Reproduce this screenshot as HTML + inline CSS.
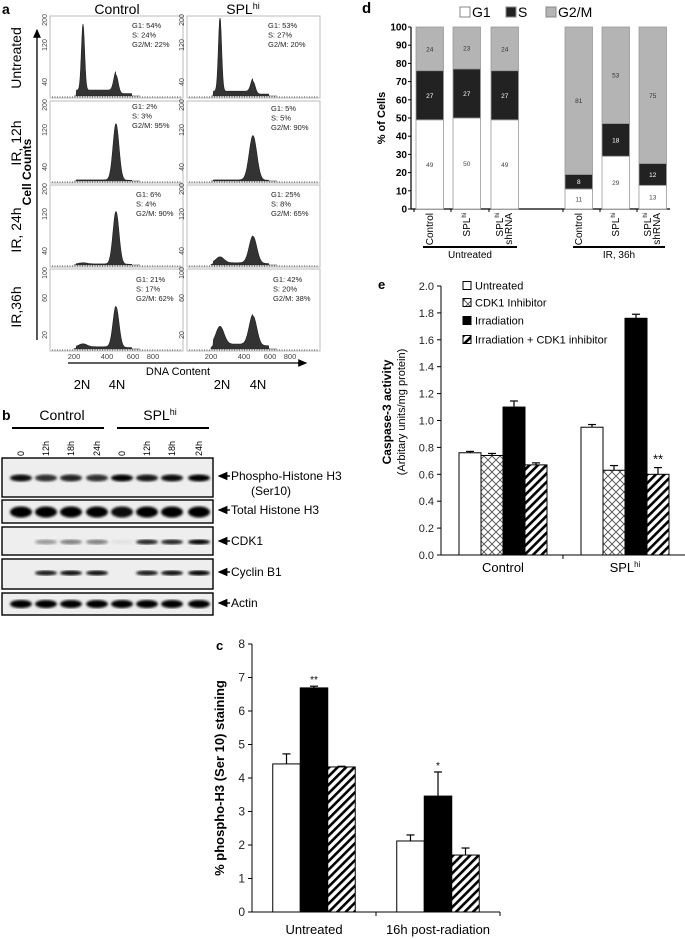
<!DOCTYPE html>
<html><head><meta charset="utf-8"><style>
html,body{margin:0;padding:0;background:#fff}
svg{display:block;font-family:"Liberation Sans",Arial,sans-serif}
</style></head><body>
<svg id="fig" width="685" height="939" viewBox="0 0 685 939" xmlns="http://www.w3.org/2000/svg">
<defs>
<pattern id="diag" patternUnits="userSpaceOnUse" width="6" height="6" patternTransform="rotate(45)"><rect width="6" height="6" fill="#fff"/><rect width="2.6" height="6" fill="#000"/></pattern>
<pattern id="brick" patternUnits="userSpaceOnUse" width="8" height="8"><rect width="8" height="8" fill="#fff"/><path d="M0 4 L4 0 L8 4 L4 8 Z" fill="none" stroke="#555" stroke-width="0.9"/></pattern>
<filter id="blur"><feGaussianBlur stdDeviation="1.2"/></filter>
<marker id="arr" markerWidth="8" markerHeight="8" refX="6" refY="4" orient="auto"><path d="M0 1 L7 4 L0 7 Z" fill="#000"/></marker>
</defs>
<g id="pa"></g>
<g id="pb"></g>
<g id="pc"></g>
<g id="pd"></g>
<g id="pe"></g>
</svg>
<script>
// ---------- Panel a data ----------
const aRowLabels = ['Untreated','IR, 12h','IR, 24h','IR,36h'];
const aColLabels = ['Control','SPL'];
const aG1Counts = [[178,200],[0,0],[3,16],[4,24]];
const aSCounts = [[16,13],[5,5],[5,10],[5,11]];
const aG2Counts = [[50,34],[152,120],[142,73],[55,40]];
const aYMax = [210,210,210,105];
const aYTicks = [['200','120','40'],['200','120','40'],['200','120','40'],['100','60','20']];
const aPercents = [
 [['G1: 54%','S: 24%','G2/M: 22%'],['G1: 53%','S: 27%','G2/M: 20%']],
 [['G1: 2%','S: 3%','G2/M: 95%'],['G1: 5%','S: 5%','G2/M: 90%']],
 [['G1: 6%','S: 4%','G2/M: 90%'],['G1: 25%','S: 8%','G2/M: 65%']],
 [['G1: 21%','S: 17%','G2/M: 62%'],['G1: 42%','S: 20%','G2/M: 38%']]];
const aXTicks = ['200','400','600','800'];

// ---------- Panel c data ----------
const cGroups = ['Untreated','16h post-radiation'];
const cWhite = [4.42,2.12];
const cWhiteErr = [0.3,0.18];
const cBlack = [6.69,3.46];
const cBlackErr = [0.05,0.72];
const cHatch = [4.33,1.70];
const cHatchErr = [0.02,0.21];
const cSig = ['**','*'];
const cTicks = [0,1,2,3,4,5,6,7,8];

// ---------- Panel d data ----------
const dBars = ['Control','SPL','SPL shRNA','Control','SPL','SPL shRNA'];
const dG1 = [49,50,49,11,29,13];
const dS = [27,27,27,8,18,12];
const dG2M = [24,23,24,81,53,75];
const dTicks = [0,10,20,30,40,50,60,70,80,90,100];

// ---------- Panel e data ----------
const eGroups = ['Control','SPL'];
const eUntreated = [0.76,0.95];
const eUntreatedErr = [0.01,0.02];
const eCdk1 = [0.74,0.63];
const eCdk1Err = [0.015,0.035];
const eIrr = [1.10,1.76];
const eIrrErr = [0.045,0.03];
const eIrrCdk1 = [0.67,0.60];
const eIrrCdk1Err = [0.015,0.05];
const eTicks = ['0.0','0.2','0.4','0.6','0.8','1.0','1.2','1.4','1.6','1.8','2.0'];

const NS='http://www.w3.org/2000/svg';
function mk(parent,tag,attrs,text){const e=document.createElementNS(NS,tag);for(const k in attrs)e.setAttribute(k,attrs[k]);if(text!==undefined)e.textContent=text;parent.appendChild(e);return e;}

// ================= Panel a =================
(function(){
 const g=document.getElementById('pa');
 let t=mk(g,'text',{x:2,y:14,'font-size':14,'font-weight':'bold'},'a');
 
 
 t=mk(g,'text',{x:117,y:14,'font-size':14,'text-anchor':'middle'},'Control');
 
 
 t=mk(g,'text',{x:243,y:14,'font-size':14,'text-anchor':'middle'});
 t.innerHTML='SPL<tspan font-size="9" dy="-5">hi</tspan>';
 
 
 const boxX=[50,187], boxY=[16,101,185,269], bw=133, bh=82;
 const ln=mk(g,'line',{x1:37,y1:340,x2:37,y2:30,stroke:'#000','stroke-width':1.3,'marker-end':'url(#arr)'});
 
 
 t=mk(g,'text',{x:0,y:0,'font-size':12,'font-weight':'bold','text-anchor':'middle',transform:'translate(31,172) rotate(-90)'},'Cell Counts');
 
 
 const rowCy=[58,143,230,307];
 for(let r=0;r<4;r++){
  t=mk(g,'text',{x:0,y:0,'font-size':14,'text-anchor':'middle',transform:`translate(21,${rowCy[r]}) rotate(-90)`},aRowLabels[r]);
  
  
  for(let c=0;c<2;c++){
   const x0=boxX[c], y0=boxY[r];
   const box=mk(g,'rect',{x:x0,y:y0,width:bw,height:bh,fill:'#fff',stroke:'#bbb','stroke-width':1});
   
   
   const base=y0+bh-2, sc=(bh-4)/aYMax[r];
   const g1x=33,g2x=66;
   let pts=[];
   const start=24, end=90;
   const g2s=(r===0?2.2:(c===1?3.8:3));
   for(let xx=start;xx<=end;xx+=0.5){
    let h=aG1Counts[r][c]*Math.exp(-Math.pow((xx-g1x)/1.6,2)/2);
    if(r>0&&aG1Counts[r][c]>0) h=aG1Counts[r][c]*Math.exp(-Math.pow((xx-g1x)/4,2)/2);
    h+=aG2Counts[r][c]*Math.exp(-Math.pow((xx-g2x)/g2s,2)/2);
    if(xx>26&&xx<g2x) h+=aSCounts[r][c]*(r===0?1:0.6);
    if(xx>=g2x&&xx<82) h+=aSCounts[r][c]*0.4;
    pts.push([x0+xx,base-Math.min(h*sc,bh-4)]);
   }
   let d=`M${x0+start} ${base} `+pts.map(p=>`L${p[0].toFixed(1)} ${p[1].toFixed(1)}`).join(' ')+` L${x0+end} ${base} Z`;
   const hp=mk(g,'path',{d:d,fill:'#333',stroke:'#222','stroke-width':0.6});
   
   
   mk(g,'line',{x1:x0+2,y1:base+1,x2:x0+bw-2,y2:base+1,stroke:'#555','stroke-width':1,'stroke-dasharray':'1 1.5'});
   const ty=[4,29,66];
   for(let k=0;k<3;k++){
    const yt=mk(g,'text',{x:0,y:0,'font-size':7,fill:'#444','text-anchor':'middle',transform:`translate(${x0-3},${y0+ty[k]}) rotate(-90)`},aYTicks[r][k]);
    
    
   }
   const px=[[132,268],[132,271],[136,271],[136,273]][r][c];
   const py=[[28,28],[109,111],[197,197],[282,282]][r][c];
   for(let k=0;k<3;k++){
    const pt=mk(g,'text',{x:px,y:py+k*9.5,'font-size':7.5,fill:'#222'},aPercents[r][c][k]);
    
    
   }
  }
 }
 const xt=[74,107,133,153];
 for(let c=0;c<2;c++)for(let k=0;k<4;k++){
  const tt=mk(g,'text',{x:xt[k]+c*137,y:359,'font-size':7.5,fill:'#444','text-anchor':'middle'},aXTicks[k]);
  
  
 }
 const xa=mk(g,'line',{x1:68,y1:363,x2:306,y2:363,stroke:'#000','stroke-width':1.3,'marker-end':'url(#arr)'});
 
 
 t=mk(g,'text',{x:178,y:375,'font-size':11,'text-anchor':'middle'},'DNA Content');
 
 
 [[82,'2N'],[117,'4N'],[222,'2N'],[258,'4N']].forEach(a=>{
  const l=mk(g,'text',{x:a[0],y:389,'font-size':13,'text-anchor':'middle'},a[1]);
  
  
 });
})();

// ================= Panel b =================
(function(){
 const g=document.getElementById('pb');
 let t=mk(g,'text',{x:2,y:420,'font-size':14,'font-weight':'bold'},'b');
 
 
 t=mk(g,'text',{x:62,y:420,'font-size':14,'text-anchor':'middle'},'Control');
 
 
 t=mk(g,'text',{x:160,y:420,'font-size':14,'text-anchor':'middle'});
 t.innerHTML='SPL<tspan font-size="9" dy="-5">hi</tspan>';
 
 
 mk(g,'line',{x1:12,y1:428,x2:104,y2:428,stroke:'#000','stroke-width':2});
 mk(g,'line',{x1:117,y1:428,x2:209,y2:428,stroke:'#000','stroke-width':2});
 const lanes=[21,46,71,97,122,147,172,199];
 const lab=['0','12h','18h','24h','0','12h','18h','24h'];
 lanes.forEach((x,i)=>{
  const l=mk(g,'text',{x:0,y:0,'font-size':9,'text-anchor':'start',transform:`translate(${x+3},456) rotate(-90)`},lab[i]);
  
  
 });
 const rows=[
  {y:458,h:39,band:478,bh:7,int:[0.95,0.8,0.85,0.8,1,0.9,0.95,1],name:'Phospho-Histone H3',ly:480,sub:'(Ser10)'},
  {y:500,h:23,band:512,bh:11,int:[1,1,1,1,0.95,1,1,1],name:'Total Histone H3',ly:514},
  {y:527,h:28,band:542,bh:5,int:[0,0.35,0.45,0.45,0.05,0.85,0.85,1],name:'CDK1',ly:545},
  {y:559,h:30,band:573,bh:5,int:[0,0.9,0.95,0.95,0,0.9,0.95,1],name:'Cyclin B1',ly:576},
  {y:593,h:22,band:604,bh:8,int:[1,1,1,1,1,1,1,1],name:'Actin',ly:607}
 ];
 rows.forEach(r=>{
  const b=mk(g,'rect',{x:2,y:r.y,width:211,height:r.h,fill:'#eee',stroke:'#000','stroke-width':1.4});
  
  
  lanes.forEach((x,i)=>{
   if(r.int[i]<=0)return;
   const e=mk(g,'ellipse',{cx:x,cy:r.band,rx:11,ry:r.bh/2,fill:'#000','fill-opacity':r.int[i],filter:'url(#blur)'});
   
   
  });
  mk(g,'line',{x1:230,y1:r.ly-4,x2:219,y2:r.ly-4,stroke:'#000','stroke-width':1.4,'marker-end':'url(#arr)'});
  const l=mk(g,'text',{x:231,y:r.ly,'font-size':12},r.name);
  
  
  if(r.sub){const s=mk(g,'text',{x:271,y:r.ly+15,'font-size':12,'text-anchor':'middle'},r.sub);
   
   }
 });
})();

// ================= Panel c =================
(function(){
 const g=document.getElementById('pc');
 const ax0=252, ax1=500, y0=912, pu=33.5;
 const yS=v=>y0-v*pu;
 let t=mk(g,'text',{x:216,y:650,'font-size':13,'font-weight':'bold'},'c');
 
 
 mk(g,'line',{x1:ax0,y1:yS(8),x2:ax0,y2:y0,stroke:'#000','stroke-width':1});
 mk(g,'line',{x1:ax0,y1:y0,x2:ax1,y2:y0,stroke:'#000','stroke-width':1});
 cTicks.forEach(v=>{
  mk(g,'line',{x1:ax0-4,y1:yS(v),x2:ax0,y2:yS(v),stroke:'#000'});
  const l=mk(g,'text',{x:ax0-7,y:yS(v)+4,'font-size':12,'text-anchor':'end',fill:'#222'},String(v));
  
  
 });
 const gw=(ax1-ax0)/cGroups.length, bw=27.5;
 mk(g,'line',{x1:ax0+gw,y1:y0,x2:ax0+gw,y2:y0+4,stroke:'#000'});
 mk(g,'line',{x1:ax1,y1:y0,x2:ax1,y2:y0+4,stroke:'#000'});
 t=mk(g,'text',{x:0,y:0,'font-size':13,'font-weight':'bold','text-anchor':'middle',transform:'translate(224,778) rotate(-90)'},'% phospho-H3  (Ser 10) staining');
 
 
 cGroups.forEach((name,i)=>{
  const cx=ax0+gw*(i+0.5);
  const series=[[cWhite,cWhiteErr,'#fff'],[cBlack,cBlackErr,'#000'],[cHatch,cHatchErr,'url(#diag)']];
  series.forEach((s,k)=>{
   const x=cx-1.5*bw+k*bw, v=s[0][i], e=s[1][i];
   const r=mk(g,'rect',{x:x,y:yS(v),width:bw,height:y0-yS(v),fill:s[2],stroke:'#000','stroke-width':1});
   
   
   mk(g,'line',{x1:x+bw/2,y1:yS(v),x2:x+bw/2,y2:yS(v+e),stroke:'#000','stroke-width':1.2});
   mk(g,'line',{x1:x+bw/2-4,y1:yS(v+e),x2:x+bw/2+4,y2:yS(v+e),stroke:'#000','stroke-width':1.2});
   if(k===1){const st=mk(g,'text',{x:x+bw/2,y:yS(v+e)-3,'font-size':10,'text-anchor':'middle'},cSig[i]);
    
    }
  });
  const l=mk(g,'text',{x:cx,y:934,'font-size':13,'text-anchor':'middle'},name);
  
  
 });
})();

// ================= Panel d =================
(function(){
 const g=document.getElementById('pd');
 const ax0=411, ax1=670, y0=209, pu=1.82;
 const yS=v=>y0-v*pu;
 const bx=[416,453,491,565,602,639], bw=27.5;
 let t=mk(g,'text',{x:362,y:13,'font-size':15,'font-weight':'bold'},'d');
 
 
 const leg=[['G1','#fff',460],['S','#222',506],['G2/M','#b4b4b4',546]];
 leg.forEach(l=>{
  const r=mk(g,'rect',{x:l[2],y:7,width:10,height:10,fill:l[1],stroke:'#888','stroke-width':1});
  
  
  const tx=mk(g,'text',{x:l[2]+12,y:17,'font-size':14},l[0]);
  
  
 });
 mk(g,'line',{x1:ax0,y1:yS(100),x2:ax0,y2:y0,stroke:'#000','stroke-width':1.2});
 mk(g,'line',{x1:ax0,y1:y0,x2:ax1,y2:y0,stroke:'#000','stroke-width':1.2});
 dTicks.forEach(v=>{
  mk(g,'line',{x1:ax0-3,y1:yS(v),x2:ax0,y2:yS(v),stroke:'#000'});
  const l=mk(g,'text',{x:ax0-4,y:yS(v)+3.5,'font-size':10,'font-weight':'bold','text-anchor':'end'},String(v));
  
  
 });
 t=mk(g,'text',{x:0,y:0,'font-size':11,'font-weight':'bold','text-anchor':'middle',transform:'translate(385,118) rotate(-90)'},'% of Cells');
 
 
 dBars.forEach((name,i)=>{
  const x=bx[i];
  const segs=[[0,dG1[i],'#fff','#444'],[dG1[i],dS[i],'#222','#fff'],[dG1[i]+dS[i],dG2M[i],'#b4b4b4','#333']];
  segs.forEach((s,k)=>{
   const r=mk(g,'rect',{x:x,y:yS(s[0]+s[1]),width:bw,height:s[1]*pu,fill:s[2],stroke:'#999','stroke-width':0.8});
   
   
   const v=mk(g,'text',{x:x+bw/2,y:yS(s[0]+s[1]/2)+2.5,'font-size':6.5,'text-anchor':'middle',fill:s[3]},String(s[1]));
   
   
  });
  mk(g,'line',{x1:x-2,y1:y0,x2:x-2,y2:y0+3,stroke:'#000'});
  const parts=name.split(' ');
  const lx=x+bw/2+(parts.length>1?-2:3);
  let l=mk(g,'text',{x:0,y:0,'font-size':10,'text-anchor':'end',transform:`translate(${lx},213) rotate(-90)`});
  l.innerHTML=parts[0].replace('SPL','SPL<tspan font-size="6" dy="-4">hi</tspan><tspan dy="4"></tspan>');
  
  
  if(parts.length>1){const l2=mk(g,'text',{x:0,y:0,'font-size':10,'text-anchor':'end',transform:`translate(${lx+9},213) rotate(-90)`},parts[1]);
   
   }
 });
 mk(g,'line',{x1:423,y1:247,x2:517,y2:247,stroke:'#000','stroke-width':2});
 mk(g,'line',{x1:573,y1:247,x2:665,y2:247,stroke:'#000','stroke-width':2});
 t=mk(g,'text',{x:470,y:258,'font-size':10,'text-anchor':'middle'},'Untreated');
 
 
 t=mk(g,'text',{x:619,y:258,'font-size':10,'text-anchor':'middle'},'IR, 36h');
 
 
})();

// ================= Panel e =================
(function(){
 const g=document.getElementById('pe');
 const ax0=441, ax1=685, y0=555, pu=134.5;
 const yS=v=>y0-v*pu;
 let t=mk(g,'text',{x:378,y:289,'font-size':13,'font-weight':'bold'},'e');
 
 
 mk(g,'line',{x1:ax0,y1:yS(2),x2:ax0,y2:y0,stroke:'#000','stroke-width':1});
 mk(g,'line',{x1:ax0,y1:y0,x2:ax1,y2:y0,stroke:'#000','stroke-width':1});
 eTicks.forEach(s=>{
  const v=parseFloat(s);
  mk(g,'line',{x1:ax0-4,y1:yS(v),x2:ax0,y2:yS(v),stroke:'#000'});
  const l=mk(g,'text',{x:ax0-7,y:yS(v)+4,'font-size':11,'text-anchor':'end',fill:'#222'},s);
  
  
 });
 t=mk(g,'text',{x:0,y:0,'font-size':12,'font-weight':'bold','text-anchor':'middle',transform:'translate(391,412) rotate(-90)'},'Caspase-3  activity');
 
 
 t=mk(g,'text',{x:0,y:0,'font-size':11,'text-anchor':'middle',transform:'translate(405,412) rotate(-90)'},'(Arbitary units/mg protein)');
 
 
 const gw=(ax1-ax0)/eGroups.length, bw=22;
 mk(g,'line',{x1:ax0+gw,y1:y0,x2:ax0+gw,y2:y0+4,stroke:'#000'});
 const series=[[eUntreated,eUntreatedErr,'#fff','Untreated'],[eCdk1,eCdk1Err,'url(#brick)','CDK1 Inhibitor'],[eIrr,eIrrErr,'#000','Irradiation'],[eIrrCdk1,eIrrCdk1Err,'url(#diag)','Irradiation + CDK1 inhibitor']];
 const cxs=[503,625];
 eGroups.forEach((name,i)=>{
  const cx=cxs[i];
  series.forEach((s,k)=>{
   const x=cx-2*bw+k*bw, v=s[0][i], e=s[1][i];
   const r=mk(g,'rect',{x:x,y:yS(v),width:bw,height:y0-yS(v),fill:s[2],stroke:'#000','stroke-width':1});
   
   
   mk(g,'line',{x1:x+bw/2,y1:yS(v),x2:x+bw/2,y2:yS(v+e),stroke:'#000','stroke-width':1.2});
   mk(g,'line',{x1:x+bw/2-4,y1:yS(v+e),x2:x+bw/2+4,y2:yS(v+e),stroke:'#000','stroke-width':1.2});
  });
  const l=mk(g,'text',{x:cx,y:572,'font-size':13,'text-anchor':'middle'});
  l.innerHTML=name==='SPL'?'SPL<tspan font-size="8" dy="-5">hi</tspan>':name;
  
  
 });
 const sx=cxs[1]+bw*1.5, sv=eIrrCdk1[1]+eIrrCdk1Err[1];
 t=mk(g,'text',{x:sx,y:yS(sv)-4,'font-size':13,'text-anchor':'middle'},'**');
 
 
 const ly=[286,303,321,340];
 series.forEach((s,k)=>{
  const r=mk(g,'rect',{x:463,y:ly[k]-4.5,width:8,height:8,fill:s[2],stroke:'#000','stroke-width':1});
  
  
  const l=mk(g,'text',{x:475,y:ly[k]+3.5,'font-size':11},s[3]);
  
  
 });
})();
</script>
</body></html>
